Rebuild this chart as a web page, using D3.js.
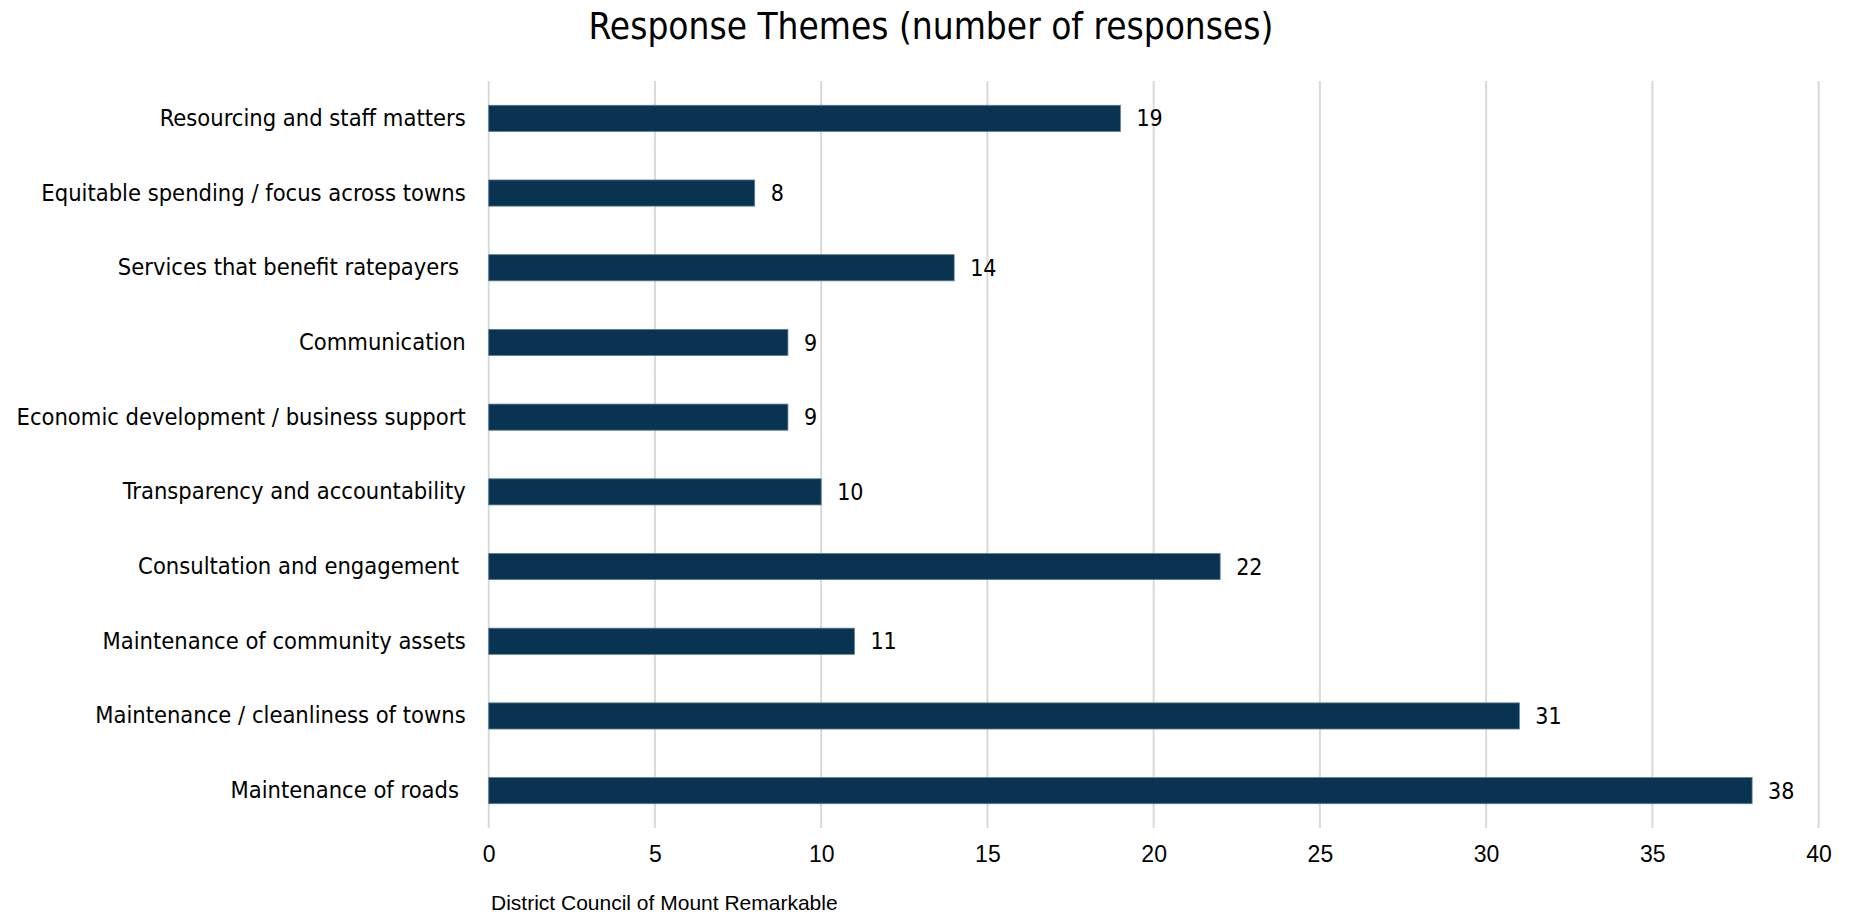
<!DOCTYPE html>
<html>
<head>
<meta charset="utf-8">
<script src="https://cdn.jsdelivr.net/npm/d3@7"></script>
<style>
  html, body { margin: 0; padding: 0; background: #fff; }
  svg text { white-space: pre; }
</style>
</head>
<body>
<svg id="chart" width="1860" height="915"></svg>
<script>
const categories = [
  "Resourcing and staff matters",
  "Equitable spending / focus across towns",
  "Services that benefit ratepayers ",
  "Communication",
  "Economic development / business support",
  "Transparency and accountability",
  "Consultation and engagement ",
  "Maintenance of community assets",
  "Maintenance / cleanliness of towns",
  "Maintenance of roads "
];
const values = [19, 8, 14, 9, 9, 10, 22, 11, 31, 38];
const xTicks = [0, 5, 10, 15, 20, 25, 30, 35, 40];
const titleText = "Response Themes (number of responses)";
const footText = "District Council of Mount Remarkable";

const svg = d3.select("#chart");
const W = 1860, H = 915;
const margin = { left: 488.7, right: 1860 - 1818.6, top: 81, bottom: 915 - 828 };

const x = d3.scaleLinear().domain([0, 40]).range([margin.left, W - margin.right]);
const y = d3.scaleBand().domain(categories).range([margin.top, H - margin.bottom]).paddingInner(0.65).paddingOuter(0.325);

const labelFont = "Tahoma, 'DejaVu Sans Condensed', sans-serif";
const arial = "'Liberation Sans', Arial, sans-serif";

// gridlines
svg.append("g").selectAll("line").data(xTicks).join("line")
  .attr("x1", d => x(d)).attr("x2", d => x(d))
  .attr("y1", margin.top).attr("y2", H - margin.bottom)
  .attr("stroke", "#d9d9d9").attr("stroke-width", 2);

// x axis tick labels
const xAxis = d3.axisBottom(x).tickValues(xTicks).tickSize(0).tickPadding(0);
const gx = svg.append("g").attr("transform", `translate(0,${H - margin.bottom + 34})`).call(xAxis);
gx.select(".domain").remove();
gx.selectAll("text").attr("font-family", arial)
  .attr("font-size", 23).attr("fill", "#000").attr("dy", "0");

// y axis labels
const yAxis = d3.axisLeft(y).tickSize(0).tickPadding(0);
const gy = svg.append("g").attr("transform", `translate(${margin.left - 23},0)`).call(yAxis);
gy.select(".domain").remove();
gy.selectAll("text").attr("font-family", labelFont).attr("font-size", 23.5).attr("fill", "#000");

// bars
svg.append("g").selectAll("rect").data(values).join("rect")
  .attr("x", x(0))
  .attr("y", (d, i) => y(categories[i]))
  .attr("width", d => x(d) - x(0))
  .attr("height", y.bandwidth())
  .attr("fill", "#083451")
  .attr("stroke", "#5d7d96").attr("stroke-width", 0.8);

// value labels
svg.append("g").selectAll("text").data(values).join("text")
  .attr("x", d => x(d) + 16)
  .attr("y", (d, i) => y(categories[i]) + y.bandwidth() / 2)
  .attr("dy", "0.35em")
  .attr("font-family", labelFont).attr("font-size", 23).attr("fill", "#000")
  .text(d => d);

// title
svg.append("text").attr("x", 931).attr("y", 26).attr("dy", "0.35em")
  .attr("text-anchor", "middle")
  .attr("font-family", labelFont).attr("font-size", 36.7).attr("fill", "#000")
  .text(titleText);

// footer
svg.append("text").attr("x", 491).attr("y", 910)
  .attr("font-family", arial).attr("font-size", 21).attr("fill", "#000")
  .text(footText);
</script>
</body>
</html>
